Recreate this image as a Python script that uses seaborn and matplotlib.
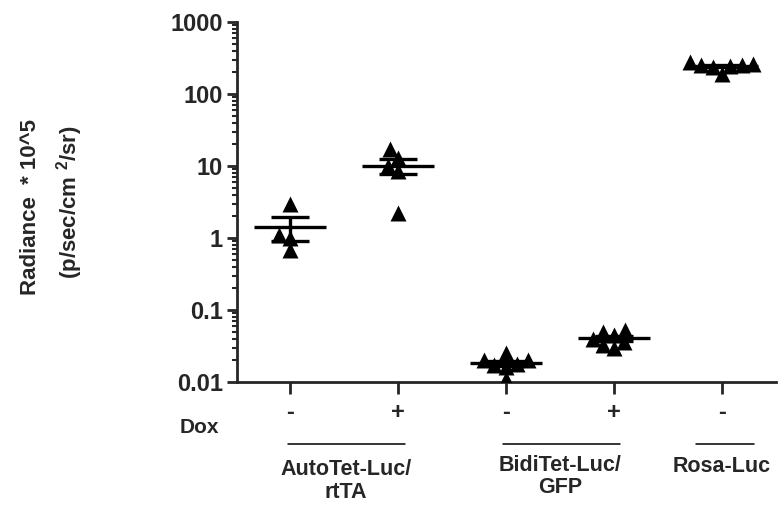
import numpy as np
import pandas as pd
import matplotlib
matplotlib.use("Agg")
import matplotlib.pyplot as plt
import matplotlib.ticker as mticker
import seaborn as sns

# values (radiance * 10^5)
conditions = ["AutoTet -", "AutoTet +", "BidiTet -", "BidiTet +", "Rosa -"]
dox_labels = ["-", "+", "-", "+", "-"]
autotet_minus = [3.0, 1.1, 1.0, 0.68]
autotet_plus = [17.0, 13.0, 10.0, 8.5, 2.2]
biditet_minus = [0.025, 0.020, 0.020, 0.018, 0.017, 0.016, 0.011]
biditet_plus = [0.052, 0.050, 0.045, 0.040, 0.036, 0.033, 0.030]
rosa_minus = [280, 265, 255, 250, 245, 235, 190]

y_ticks = [0.01, 0.1, 1, 10, 100, 1000]
y_ticklabels = ["0.01", "0.1", "1", "10", "100", "1000"]
group_labels = ["AutoTet-Luc/\nrtTA", "BidiTet-Luc/\nGFP", "Rosa-Luc"]

series = [autotet_minus, autotet_plus, biditet_minus, biditet_plus, rosa_minus]
df = pd.DataFrame({
    "condition": np.repeat(conditions, [len(s) for s in series]),
    "radiance": np.concatenate(series),
})
stats = df.groupby("condition")["radiance"].agg(["mean", "sem"]).reindex(conditions)

sns.set_style("ticks")
plt.rcParams["font.family"] = ["Liberation Sans", "DejaVu Sans"]
plt.rcParams["font.weight"] = "bold"
plt.rcParams["font.size"] = 15
plt.rcParams["mathtext.default"] = "regular"

fig = plt.figure(figsize=(7.78, 5.07), dpi=100)
ax = fig.add_axes([0.3046, 0.2465, 0.6928, 0.7101])
ax.set_yscale("log")
ax.set_ylim(0.01, 1000)
ax.set_xlim(-0.49, 4.5)

# swarm laid out with small markers, then frozen and enlarged so the
# triangles overlap the way GraphPad stacks them
sns.swarmplot(data=df, x="condition", y="radiance", order=conditions,
              marker="^", color="black", size=8, ax=ax, zorder=3)
ax.set_xlim(-0.49, 4.5)
ax.set_ylim(0.01, 1000)
fig.canvas.draw()
for coll in ax.collections:
    coll.__dict__.pop("draw", None)
    coll.set_sizes([11.5 ** 2])

x_pos = np.arange(len(conditions))
ax.errorbar(x_pos, stats["mean"], yerr=stats["sem"], fmt="_", color="black",
            markersize=52, mew=2.4, elinewidth=2.4, capsize=13.5, capthick=2.4,
            zorder=4)

ax.set_xlim(-0.49, 4.5)
ax.set_ylim(0.01, 1000)
ax.set_yticks(y_ticks)
ax.set_yticklabels(y_ticklabels)
ax.yaxis.set_minor_locator(mticker.LogLocator(base=10, subs=np.arange(2, 10)))
ax.yaxis.set_minor_formatter(mticker.NullFormatter())
ax.set_xticks(x_pos)
ax.set_xticklabels(dox_labels)
ax.set_xlabel("")
ax.set_ylabel("")

for side in ["top", "right"]:
    ax.spines[side].set_visible(False)
for side in ["left", "bottom"]:
    ax.spines[side].set_linewidth(2)
ax.tick_params(axis="y", which="major", length=7, width=2, pad=3, labelsize=17)
ax.tick_params(axis="y", which="minor", length=3.5, width=1.5)
ax.tick_params(axis="x", which="major", length=8.5, width=2, pad=5, labelsize=17)

# y axis title
fig.text(0.039, 0.592, "Radiance  * 10^5", rotation=90, ha="center", va="center",
         fontsize=16, fontweight="bold")
fig.text(0.090, 0.601, "(p/sec/cm $^2$/sr)", rotation=90, ha="center", va="center",
         fontsize=16, fontweight="bold")

# Dox row label
fig.text(0.256, 0.156, "Dox", ha="center", va="center", fontsize=15, fontweight="bold")

# group underlines and names
trans = ax.get_xaxis_transform()
spans = [(-0.02, 1.07), (1.97, 3.06), (3.76, 4.3)]
for x0, x1 in spans:
    ax.plot([x0, x1], [-0.172, -0.172], color="black", lw=1.1,
            transform=trans, clip_on=False)
label_pos = [(0.52, -0.275), (2.5, -0.262), (4.0, -0.234)]
for (lx, ly), txt in zip(label_pos, group_labels):
    ax.text(lx, ly, txt, transform=trans, ha="center", va="center",
            fontsize=15.5, fontweight="bold", linespacing=1.1)

fig.savefig("out.png", dpi=100)
